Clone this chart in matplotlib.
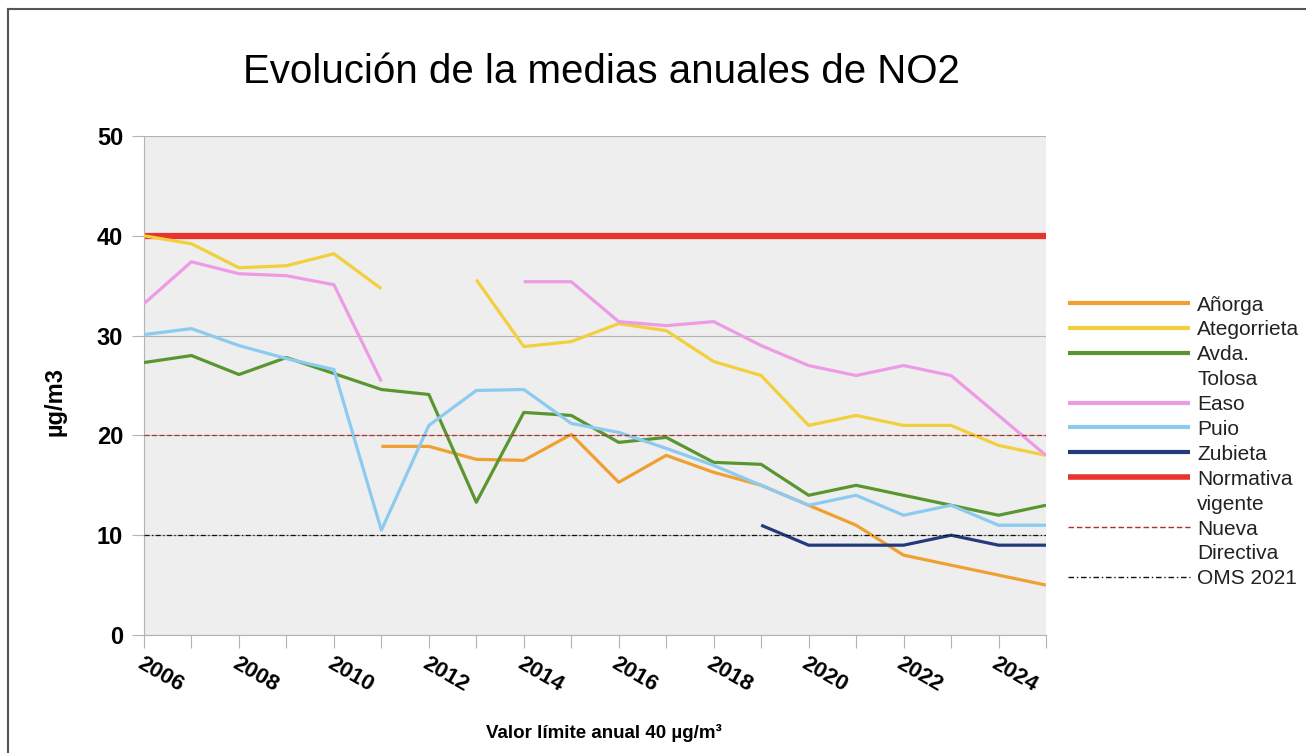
import numpy as np
import matplotlib
matplotlib.use('Agg')
import matplotlib.pyplot as plt
from matplotlib.lines import Line2D

# --- Data (annual NO2 means, ug/m3) ---
years = list(range(2006, 2026))
nan = np.nan

anorga = [nan, nan, nan, nan, nan, 18.9, 18.9, 17.6, 17.5, 20.1,
          15.3, 18.0, 16.3, 15.0, 13.0, 11.0, 8.0, 7.0, 6.0, 5.0]
ategorrieta = [40.0, 39.2, 36.8, 37.0, 38.2, 34.7, nan, 35.6, 28.9, 29.4,
               31.2, 30.5, 27.4, 26.0, 21.0, 22.0, 21.0, 21.0, 19.0, 18.0]
avda_tolosa = [27.3, 28.0, 26.1, 27.8, 26.2, 24.6, 24.1, 13.3, 22.3, 22.0,
               19.3, 19.8, 17.3, 17.1, 14.0, 15.0, 14.0, 13.0, 12.0, 13.0]
easo = [33.2, 37.4, 36.2, 36.0, 35.1, 25.4, nan, nan, 35.4, 35.4,
        31.4, 31.0, 31.4, 29.0, 27.0, 26.0, 27.0, 26.0, 22.0, 18.0]
puio = [30.1, 30.7, 29.0, 27.7, 26.6, 10.5, 21.0, 24.5, 24.6, 21.2,
        20.3, 18.7, 17.0, 15.0, 13.0, 14.0, 12.0, 13.0, 11.0, 11.0]
zubieta = [nan, nan, nan, nan, nan, nan, nan, nan, nan, nan,
           nan, nan, nan, 11.0, 9.0, 9.0, 9.0, 10.0, 9.0, 9.0]

normativa_vigente = 40
nueva_directiva = 20
oms_2021 = 10

y_ticks = [0, 10, 20, 30, 40, 50]
x_labels = [str(y) if y % 2 == 0 else '' for y in years]

# --- Styles ---
W, H = 1306, 753
series = [
    ('Añorga', anorga, dict(color='#f0a030', lw=2.3, ls='-')),
    ('Ategorrieta', ategorrieta, dict(color='#f2cf3c', lw=2.3, ls='-')),
    ('Avda.\nTolosa', avda_tolosa, dict(color='#5a9630', lw=2.3, ls='-')),
    ('Easo', easo, dict(color='#ee9be6', lw=2.3, ls='-')),
    ('Puio', puio, dict(color='#8ccaf0', lw=2.3, ls='-')),
    ('Zubieta', zubieta, dict(color='#233a7c', lw=2.3, ls='-')),
]
limits = [
    ('Normativa\nvigente', normativa_vigente, dict(color='#e8342c', lw=4.5, ls='-')),
    ('Nueva\nDirectiva', nueva_directiva, dict(color='#b0302a', lw=0.9, ls=(0, (4, 2)))),
    ('OMS 2021', oms_2021, dict(color='#111111', lw=0.9, ls=(0, (4, 2, 1, 2)))),
]

fig = plt.figure(figsize=(W / 100, H / 100), dpi=100)
ax = fig.add_axes([144 / W, 1 - 635 / H, (1046 - 144) / W, (635 - 136) / H])
ax.set_facecolor('#eeeeee')

for y in y_ticks:
    ax.plot(years, [y] * len(years), color='#b3b3b3', lw=0.8, zorder=1)

for name, vals, st in series:
    ax.plot(years, vals, solid_capstyle='butt', zorder=3, **st)
for name, val, st in limits:
    ax.plot(years, [val] * len(years), zorder=4 if st['lw'] < 2 else 2, **st)

ax.set_xlim(2006, 2025)
ax.set_ylim(0, 50)
for s in ['top', 'right']:
    ax.spines[s].set_visible(False)
for s in ['left', 'bottom']:
    ax.spines[s].set_color('#b3b3b3')
    ax.spines[s].set_linewidth(0.8)

ax.set_yticks(y_ticks)
ax.set_yticklabels([str(v) for v in y_ticks], fontsize=17, fontweight='bold',
                   family='Liberation Sans')
ax.set_xticks(years)
ax.set_xticklabels(x_labels, fontsize=16, fontweight='bold', family='Liberation Sans',
                   rotation=-30, ha='left', va='top', rotation_mode='anchor')
ax.tick_params(axis='both', direction='out', color='#b3b3b3', width=0.8)
ax.tick_params(axis='y', length=9, pad=6)
ax.tick_params(axis='x', length=9, pad=4)

fig.text(55 / W, 1 - 402 / H, 'µg/m3', rotation=90, ha='center', va='center',
         fontsize=17, fontweight='bold', family='Liberation Sans')
fig.text(604 / W, 1 - 733 / H, 'Valor límite anual 40 µg/m³', ha='center', va='center',
         fontsize=13.5, fontweight='bold', family='Liberation Sans')
fig.text(601 / W, 1 - 72 / H, 'Evolución de la medias anuales de NO2', ha='center',
         va='center', fontsize=29, family='Liberation Sans', color='black')

# --- Legend (handle aligned with first text line) ---
line_h = 24.9
y_cur = 303
for name, st in [(n, s) for n, _, s in series] + [(n, s) for n, _, s in limits]:
    lw = 3.0 if st['lw'] < 4 and st['ls'] == '-' else (4.0 if st['ls'] == '-' else 1.0)
    fig.add_artist(Line2D([1068 / W, 1190 / W], [1 - y_cur / H] * 2, color=st['color'],
                          lw=lw, ls=st['ls'], solid_capstyle='butt'))
    for k, part in enumerate(name.split('\n')):
        fig.text(1197 / W, 1 - (y_cur + k * line_h + 7.5) / H, part, ha='left',
                 va='baseline', fontsize=15, family='Liberation Sans', color='#222222')
    y_cur += line_h * len(name.split('\n'))

# outer frame (only top and left edges fall inside the image)
fig.add_artist(Line2D([8 / W, 8 / W], [0, 1 - 9 / H], color='#555555', lw=1.5))
fig.add_artist(Line2D([8 / W, 1], [1 - 9 / H] * 2, color='#555555', lw=1.5))

fig.savefig('out.png', dpi=100)
